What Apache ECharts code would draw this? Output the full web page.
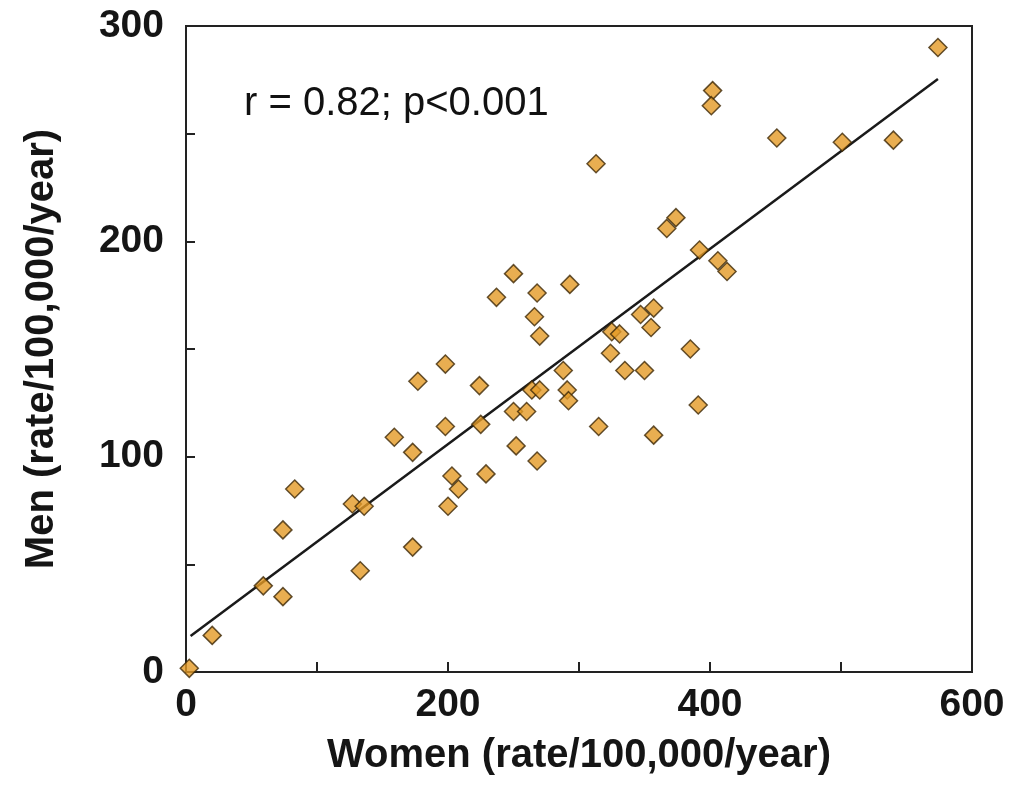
<!DOCTYPE html>
<html>
<head>
<meta charset="utf-8">
<script src="https://cdn.jsdelivr.net/npm/echarts@6/dist/echarts.min.js"></script>
<style>
  html, body { margin: 0; padding: 0; background: #fff; }
  #main { width: 1009px; height: 786px; }
</style>
</head>
<body>
<div id="main"></div>
<script>
// women rate (x) / men rate (y), per 100,000 per year
const women = [2.5, 20, 59, 74, 74, 83, 127, 136, 133, 159, 173, 177, 173, 198, 198, 200, 203, 208,
  224, 225, 229, 237, 250, 250, 252, 260, 266, 268, 270, 264, 270, 268, 293, 288, 291, 292,
  313, 315, 324, 325, 331, 335, 347, 350, 357, 355, 357, 367, 374, 385, 391, 392, 402, 401,
  406, 413, 451, 501, 540, 574]
const men = [1.7, 17, 40, 35, 66, 85, 78, 77, 47, 109, 102, 135, 58, 143, 114, 77, 91, 85,
  133, 115, 92, 174, 185, 121, 105, 121, 165, 176, 156, 131, 131, 98, 180, 140, 131, 126,
  236, 114, 148, 158, 157, 140, 166, 140, 169, 160, 110, 206, 211, 150, 124, 196, 270, 263,
  191, 186, 248, 246, 247, 290]

// regression line end points
const fitX = [3.5, 574]
const fitY = [16.7, 275.4]

const xTicks = [0, 200, 400, 600]
const yTicks = [0, 100, 200, 300]
const statText = 'r = 0.82; p<0.001'

const sans = '"Liberation Sans", Arial, Helvetica, sans-serif'

var chart = echarts.init(document.getElementById('main'))

const option = {
    backgroundColor: '#fff',
    animation: false,
    grid: {
        left: 186, right: 37, top: 26, bottom: 114,
        show: true,
        borderColor: '#222',
        borderWidth: 2
    },
    xAxis: {
        type: 'value',
        min: 0, max: 600, interval: 100,
        name: 'Women (rate/100,000/year)',
        nameLocation: 'middle',
        nameGap: 64,
        nameTextStyle: { fontFamily: sans, fontWeight: 'bold', fontSize: 40, color: '#151515' },
        axisLine: { lineStyle: { color: '#222', width: 2 } },
        axisTick: { inside: true, length: 10, lineStyle: { color: '#222', width: 2 } },
        splitLine: { show: false },
        axisLabel: {
            margin: 14,
            fontFamily: sans, fontWeight: 'bold', fontSize: 39, color: '#151515',
            formatter: v => xTicks.includes(v) ? String(v) : ''
        }
    },
    yAxis: {
        type: 'value',
        min: 0, max: 300, interval: 50,
        name: 'Men (rate/100,000/year)',
        nameLocation: 'middle',
        nameGap: 124,
        nameTextStyle: { fontFamily: sans, fontWeight: 'bold', fontSize: 40, color: '#151515' },
        axisLine: { lineStyle: { color: '#222', width: 2 } },
        axisTick: { inside: true, length: 9, lineStyle: { color: '#222', width: 2 } },
        splitLine: { show: false },
        axisLabel: {
            margin: 22,
            fontFamily: sans, fontWeight: 'bold', fontSize: 39, color: '#151515',
            formatter: v => yTicks.includes(v) ? String(v) : ''
        }
    },
    graphic: [{
        type: 'text',
        left: 244, top: 84,
        style: {
            text: statText,
            font: '40px "Liberation Sans", Arial, sans-serif',
            fill: '#111'
        }
    }],
    series: [
        {
            type: 'line',
            data: fitX.map((x, i) => [x, fitY[i]]),
            symbol: 'none',
            lineStyle: { color: '#1a1a1a', width: 2.5 },
            z: 2
        },
        {
            type: 'scatter',
            data: women.map((x, i) => [x, men[i]]),
            symbol: 'diamond',
            symbolSize: 18,
            itemStyle: { color: '#E39A26', borderColor: '#3d2806', borderWidth: 1.5 },
            z: 3
        }
    ]
}

chart.setOption(option)
</script>
</body>
</html>
